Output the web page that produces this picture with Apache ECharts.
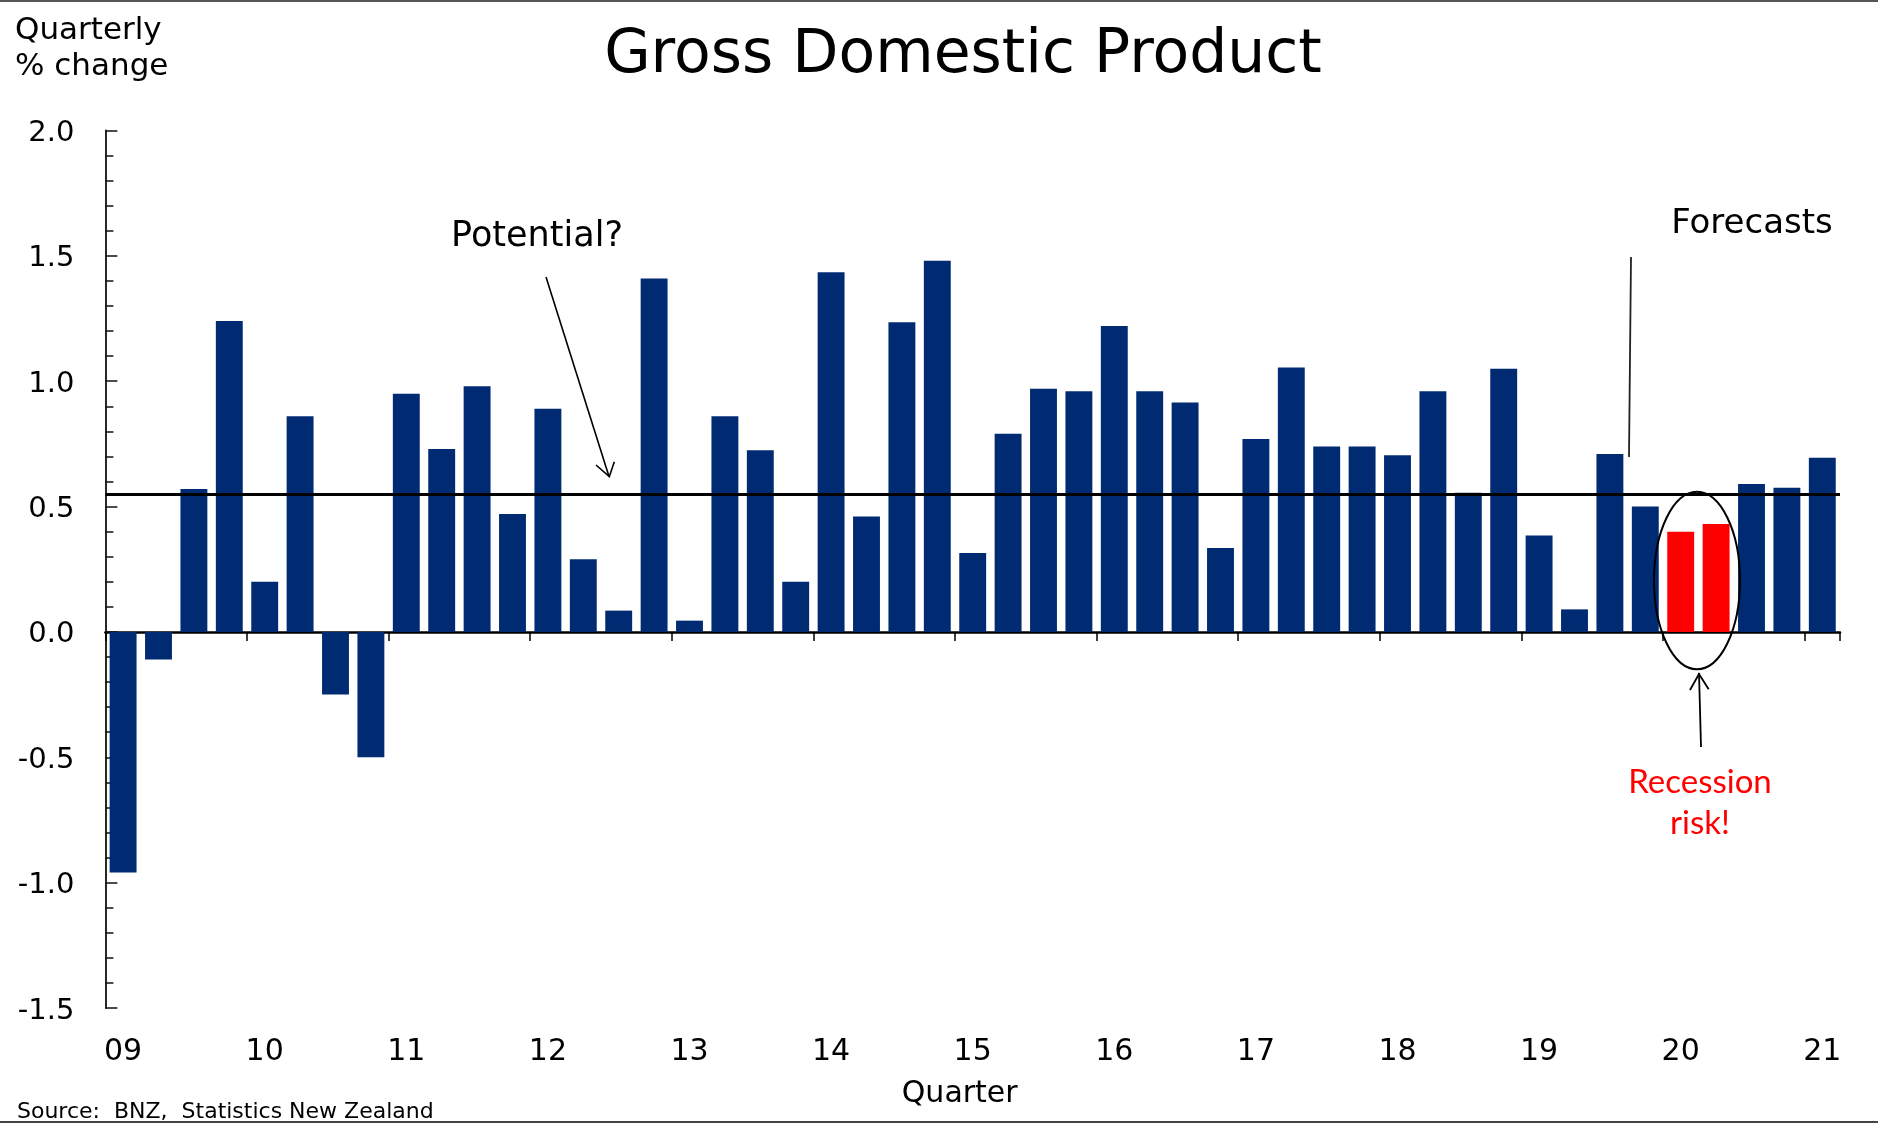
<!DOCTYPE html>
<html>
<head>
<meta charset="utf-8">
<script src="https://cdn.jsdelivr.net/npm/echarts@6/dist/echarts.min.js"></script>
<style>
  html, body { margin: 0; padding: 0; background: #fff; }
  #chart { width: 1878px; height: 1125px; }
</style>
</head>
<body>
<div id="chart"></div>
<script>
// ---------------- data ----------------
const quarters = [
  '2009Q1','2009Q2','2009Q3','2009Q4',
  '2010Q1','2010Q2','2010Q3','2010Q4',
  '2011Q1','2011Q2','2011Q3','2011Q4',
  '2012Q1','2012Q2','2012Q3','2012Q4',
  '2013Q1','2013Q2','2013Q3','2013Q4',
  '2014Q1','2014Q2','2014Q3','2014Q4',
  '2015Q1','2015Q2','2015Q3','2015Q4',
  '2016Q1','2016Q2','2016Q3','2016Q4',
  '2017Q1','2017Q2','2017Q3','2017Q4',
  '2018Q1','2018Q2','2018Q3','2018Q4',
  '2019Q1','2019Q2','2019Q3','2019Q4',
  '2020Q1','2020Q2','2020Q3','2020Q4',
  '2021Q1'
];
const gdpChange = [
  -0.96, -0.11, 0.57, 1.24,
  0.20, 0.86, -0.25, -0.50,
  0.95, 0.73, 0.98, 0.47,
  0.89, 0.29, 0.085, 1.41,
  0.045, 0.86, 0.725, 0.20,
  1.435, 0.46, 1.235, 1.48,
  0.315, 0.79, 0.97, 0.96,
  1.22, 0.96, 0.915, 0.335,
  0.77, 1.055, 0.74, 0.74,
  0.705, 0.96, 0.555, 1.05,
  0.385, 0.09, 0.71, 0.50,
  0.40, 0.43, 0.59, 0.575,
  0.695
];
const recessionRiskQuarters = ['2020Q1', '2020Q2'];
const potentialGrowth = 0.55;
const yMin = -1.5, yMax = 2.0, yStep = 0.5;

// ---------------- styles ----------------
const NAVY = '#002b73';
const RED = '#ff0000';
const FONT = 'DejaVu Sans';

const barData = quarters.map((q, i) => {
  const item = { value: gdpChange[i] };
  if (recessionRiskQuarters.indexOf(q) >= 0) item.itemStyle = { color: RED };
  return item;
});

const chart = echarts.init(document.getElementById('chart'), null, { renderer: 'canvas' });

const option = {
  backgroundColor: '#ffffff',
  animation: false,
  grid: { left: 105.4, right: 38, top: 130.5, bottom: 117, containLabel: false },
  xAxis: [
    {
      type: 'category',
      data: quarters,
      position: 'bottom',
      boundaryGap: true,
      axisLine: { show: false, onZero: false },
      axisTick: { show: false },
      splitLine: { show: false },
      axisLabel: {
        interval: 3,
        margin: 29,
        fontFamily: FONT,
        fontSize: 30,
        color: '#000',
        formatter: v => v.slice(2, 4)
      },
      name: 'Quarter',
      nameLocation: 'middle',
      nameGap: 71.5,
      nameTextStyle: { fontFamily: FONT, fontSize: 30, color: '#000', padding: [0, 26, 0, 0] }
    },
    {
      type: 'category',
      data: quarters,
      position: 'bottom',
      boundaryGap: true,
      axisLine: { show: true, onZero: true, lineStyle: { color: '#000', width: 2.5 } },
      axisTick: { show: true, interval: 3, inside: false, length: 9, lineStyle: { color: '#000', width: 1.5 } },
      axisLabel: { show: false },
      splitLine: { show: false }
    }
  ],
  yAxis: {
    type: 'value',
    min: yMin,
    max: yMax,
    interval: yStep,
    axisLine: { show: true, onZero: false, lineStyle: { color: '#111', width: 1.8 } },
    axisTick: { show: true, inside: true, length: 12, lineStyle: { color: '#111', width: 1.5 } },
    minorTick: { show: true, splitNumber: 5, length: 8, lineStyle: { color: '#111', width: 1.5 } },
    splitLine: { show: false },
    axisLabel: {
      margin: 31,
      fontFamily: FONT,
      fontSize: 29,
      color: '#000',
      verticalAlign: 'top',
      lineHeight: 6,
      formatter: v => v.toFixed(1)
    }
  },
  series: [
    {
      type: 'bar',
      xAxisIndex: 0,
      data: barData,
      barCategoryGap: '24%',
      itemStyle: { color: NAVY },
      markLine: {
        silent: true,
        symbol: 'none',
        label: { show: false },
        lineStyle: { color: '#000', width: 3, type: 'solid' },
        data: [{ yAxis: potentialGrowth }]
      }
    }
  ],
  graphic: [
    // frame lines
    { type: 'line', shape: { x1: 0, y1: 1, x2: 1878, y2: 1 }, style: { stroke: '#555', lineWidth: 2 } },
    { type: 'line', shape: { x1: 0, y1: 1122, x2: 1878, y2: 1122 }, style: { stroke: '#444', lineWidth: 2 } },
    // title
    { type: 'text', x: 963, y: 56, style: { text: 'Gross Domestic Product', fontFamily: FONT, fontSize: 60, fill: '#000', align: 'center', verticalAlign: 'middle' } },
    // y-axis unit
    { type: 'text', x: 15, y: 48.5, style: { text: 'Quarterly\n% change', fontFamily: FONT, fontSize: 31, lineHeight: 36, fill: '#000', align: 'left', verticalAlign: 'middle' } },
    // Potential annotation
    { type: 'text', x: 537, y: 236.5, style: { text: 'Potential?', fontFamily: FONT, fontSize: 35, fill: '#000', align: 'center', verticalAlign: 'middle' } },
    { type: 'line', shape: { x1: 546, y1: 277, x2: 609, y2: 476.5 }, style: { stroke: '#000', lineWidth: 1.6 } },
    { type: 'polyline', shape: { points: [[596, 465], [609.3, 476.7], [614.3, 461.7]] }, style: { stroke: '#000', lineWidth: 1.6, fill: null } },
    // Forecasts annotation
    { type: 'text', x: 1752, y: 224.5, style: { text: 'Forecasts', fontFamily: FONT, fontSize: 34, fill: '#000', align: 'center', verticalAlign: 'middle' } },
    { type: 'line', shape: { x1: 1631, y1: 257, x2: 1629, y2: 457 }, style: { stroke: '#222', lineWidth: 1.8 } },
    // Recession risk annotation
    { type: 'ellipse', shape: { cx: 1697, cy: 580.5, rx: 43, ry: 88.7 }, style: { stroke: '#000', lineWidth: 2, fill: null }, z: 100 },
    { type: 'line', shape: { x1: 1701, y1: 747, x2: 1699, y2: 673 }, style: { stroke: '#000', lineWidth: 1.8 } },
    { type: 'polyline', shape: { points: [[1690, 690], [1699, 674], [1708.7, 689.3]] }, style: { stroke: '#000', lineWidth: 1.8, fill: null } },
    { type: 'text', x: 1700, y: 803, style: { text: 'Recession\nrisk!', fontFamily: 'Lato', fontSize: 33, lineHeight: 41, fill: RED, align: 'center', verticalAlign: 'middle' } },
    // source
    { type: 'text', x: 17, y: 1112.5, style: { text: 'Source:  BNZ,  Statistics New Zealand', fontFamily: FONT, fontSize: 22, fill: '#000', align: 'left', verticalAlign: 'middle' } }
  ]
};

chart.setOption(option);
</script>
</body>
</html>
